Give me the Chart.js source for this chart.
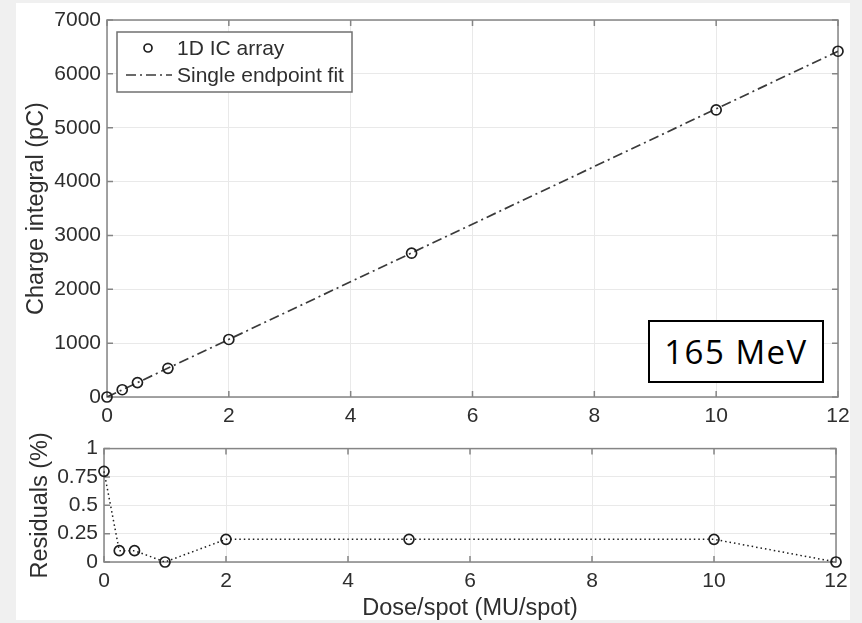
<!DOCTYPE html>
<html>
<head>
<meta charset="utf-8">
<title>165 MeV charge integral</title>
<script src="https://cdn.jsdelivr.net/npm/chart.js@4.4.1/dist/chart.umd.min.js"></script>
<style>
    body { margin: 0; background: #f0f0f0; width: 862px; height: 623px; overflow: hidden; position: relative; font-family: "Liberation Sans", Arial, sans-serif; }
    #panel { position: absolute; left: 16px; top: 3px; width: 834px; height: 617px; background: #fff; }
    #cv_top { position: absolute; left: 0; top: 0; }
    #cv_bottom { position: absolute; left: 0; top: 430px; }
    #energy_box { position: absolute; left: 648px; top: 320px; width: 172px; height: 59px; border: 2px solid #000; background: #fff;
        font-family: "Open Sans", sans-serif; font-size: 33px; letter-spacing: 1.5px; color: #000; text-align: center; line-height: 59px; }
</style>
</head>
<body>
<div id="panel"></div>
<canvas id="cv_top" width="862" height="430"></canvas>
<canvas id="cv_bottom" width="862" height="193"></canvas>
<div id="energy_box">165 MeV</div>
<script>
// số liệu
var doseX = [0, 0.25, 0.5, 1, 2, 5, 10, 12];
var chargeY = [0, 135, 268, 533, 1068, 2670, 5330, 6420];
var fitX = [0, 12];
var fitY = [0, 6420];
var residualY = [0.8, 0.1, 0.1, 0, 0.2, 0.2, 0.2, 0];
var xTicks = [0, 2, 4, 6, 8, 10, 12];
var chargeTicks = [0, 1000, 2000, 3000, 4000, 5000, 6000, 7000];
var residualTicks = [0, 0.25, 0.5, 0.75, 1];

var TXT = '#2e2e2e';
var AXIS = '#858585';
var GRID = '#e9e9e9';
var FONT = '"Liberation Sans", Arial, sans-serif';
var TICK_SIZE = 21;
var TITLE_SIZE = 23.5;

function toPoints(xs, ys) {
    return xs.map(function (x, i) { return { x: x, y: ys[i] }; });
}
function fixedTicks(list) {
    return function (scale) {
        scale.ticks = list.map(function (v) { return { value: v }; });
    };
}

// khung hộp kiểu MATLAB + vạch chia hướng vào trong
var boxPlugin = {
    id: 'boxPlugin',
    beforeDatasetsDraw: function (chart) {
        var ctx = chart.ctx, a = chart.chartArea;
        var sx = chart.scales.x, sy = chart.scales.y;
        var len = 6;
        ctx.save();
        ctx.strokeStyle = AXIS;
        ctx.lineWidth = 1.5;
        ctx.strokeRect(a.left, a.top, a.right - a.left, a.bottom - a.top);
        ctx.beginPath();
        sx.ticks.forEach(function (t) {
            var px = sx.getPixelForValue(t.value);
            ctx.moveTo(px, a.bottom); ctx.lineTo(px, a.bottom - len);
            ctx.moveTo(px, a.top); ctx.lineTo(px, a.top + len);
        });
        sy.ticks.forEach(function (t) {
            var py = sy.getPixelForValue(t.value);
            ctx.moveTo(a.left, py); ctx.lineTo(a.left + len, py);
            ctx.moveTo(a.right, py); ctx.lineTo(a.right - len, py);
        });
        ctx.stroke();
        ctx.restore();
    }
};

// chú thích nằm trong vùng vẽ (góc trên trái)
var insideLegend = {
    id: 'insideLegend',
    afterDatasetsDraw: function (chart) {
        var ctx = chart.ctx, a = chart.chartArea;
        var ds = chart.data.datasets;
        var bx = a.left + 10, by = a.top + 12, bw = 235, bh = 60;
        ctx.save();
        ctx.fillStyle = '#fff';
        ctx.fillRect(bx, by, bw, bh);
        ctx.strokeStyle = '#707070';
        ctx.lineWidth = 1.5;
        ctx.strokeRect(bx, by, bw, bh);
        ctx.font = TICK_SIZE + 'px ' + FONT;
        ctx.fillStyle = TXT;
        ctx.textBaseline = 'middle';
        ds.forEach(function (d, i) {
            var cy = by + 16 + i * 27;
            if (d.showLine === false) {
                ctx.beginPath();
                ctx.strokeStyle = d.borderColor;
                ctx.lineWidth = d.pointBorderWidth;
                ctx.arc(bx + 31, cy, 4, 0, Math.PI * 2);
                ctx.stroke();
            } else {
                ctx.beginPath();
                ctx.strokeStyle = d.borderColor;
                ctx.lineWidth = d.borderWidth;
                ctx.setLineDash(d.borderDash);
                ctx.moveTo(bx + 9, cy); ctx.lineTo(bx + 55, cy);
                ctx.stroke();
                ctx.setLineDash([]);
            }
            ctx.fillText(d.label, bx + 60, cy + 1);
        });
        ctx.restore();
    }
};

var top_chart = (function () {
    var chartInstance;
    function load_topChart() {
        var ctx = document.getElementById('cv_top').getContext('2d');
        chartInstance = new Chart(ctx, {
            type: 'scatter',
            data: {
                datasets: [
                    {
                        label: '1D IC array',
                        data: toPoints(doseX, chargeY),
                        showLine: false,
                        borderColor: '#1e1e1e',
                        backgroundColor: 'rgba(0,0,0,0)',
                        pointRadius: 5,
                        pointBorderWidth: 1.7,
                        clip: false
                    },
                    {
                        label: 'Single endpoint fit',
                        data: toPoints(fitX, fitY),
                        showLine: true,
                        borderColor: '#3a3a3a',
                        borderWidth: 1.7,
                        borderDash: [10, 4, 2, 4],
                        pointRadius: 0,
                        fill: false,
                        tension: 0
                    }
                ]
            },
            options: {
                responsive: false,
                animation: false,
                layout: { padding: { left: 0, right: 24, top: 20, bottom: 0 } },
                plugins: { legend: { display: false }, tooltip: { enabled: false } },
                scales: {
                    x: {
                        type: 'linear', min: 0, max: 12,
                        afterBuildTicks: fixedTicks(xTicks),
                        afterFit: function (s) { s.height = 33; },
                        grid: { color: GRID, drawTicks: false },
                        border: { display: false },
                        ticks: { color: TXT, padding: 7, font: { size: TICK_SIZE, family: FONT }, maxRotation: 0,
                            callback: function (v) { return String(v); } },
                    },
                    y: {
                        type: 'linear', min: 0, max: 7000,
                        afterBuildTicks: fixedTicks(chargeTicks),
                        afterFit: function (s) { s.width = 107; },
                        grid: { color: GRID, drawTicks: false },
                        border: { display: false },
                        ticks: { color: TXT, padding: 6, font: { size: TICK_SIZE, family: FONT },
                            callback: function (v) { return String(v); } },
                        title: { display: true, text: 'Charge integral (pC)', color: TXT,
                            font: { size: TITLE_SIZE, family: FONT }, padding: { top: 22, bottom: 0 } }
                    }
                }
            },
            plugins: [boxPlugin, insideLegend]
        });
    }
    return {
        init: function () {
            load_topChart();
        }
    };
})();

var residual_chart = (function () {
    var chartInstance;
    function load_residualChart() {
        var ctx = document.getElementById('cv_bottom').getContext('2d');
        chartInstance = new Chart(ctx, {
            type: 'scatter',
            data: {
                datasets: [
                    {
                        label: 'Residuals',
                        data: toPoints(doseX, residualY),
                        showLine: true,
                        borderColor: '#1e1e1e',
                        borderWidth: 1.5,
                        borderDash: [1.5, 3],
                        backgroundColor: 'rgba(0,0,0,0)',
                        pointBorderColor: '#1e1e1e',
                        pointRadius: 5,
                        pointBorderWidth: 1.7,
                        tension: 0,
                        clip: false
                    }
                ]
            },
            options: {
                responsive: false,
                animation: false,
                layout: { padding: { left: 0, right: 26, top: 10, bottom: 0 } },
                plugins: { legend: { display: false }, tooltip: { enabled: false } },
                scales: {
                    x: {
                        type: 'linear', min: 0, max: 12,
                        afterBuildTicks: fixedTicks(xTicks),
                        afterFit: function (s) { s.height = 61; },
                        grid: { color: GRID, drawTicks: false },
                        border: { display: false },
                        ticks: { color: TXT, padding: 7, font: { size: TICK_SIZE, family: FONT }, maxRotation: 0,
                            callback: function (v) { return String(v); } },
                        title: { display: true, text: 'Dose/spot (MU/spot)', color: TXT,
                            font: { size: TITLE_SIZE, family: FONT }, padding: { top: 0, bottom: 0 } }
                    },
                    y: {
                        type: 'linear', min: 0, max: 1,
                        afterBuildTicks: fixedTicks(residualTicks),
                        afterFit: function (s) { s.width = 104; },
                        grid: { color: GRID, drawTicks: false },
                        border: { display: false },
                        ticks: { color: TXT, padding: 6, font: { size: TICK_SIZE, family: FONT },
                            callback: function (v) { return String(v); } },
                        title: { display: true, text: 'Residuals (%)', color: TXT,
                            font: { size: TITLE_SIZE, family: FONT }, padding: { top: 26, bottom: 0 } }
                    }
                }
            },
            plugins: [boxPlugin]
        });
    }
    return {
        init: function () {
            load_residualChart();
        }
    };
})();

top_chart.init();
residual_chart.init();
</script>
</body>
</html>
